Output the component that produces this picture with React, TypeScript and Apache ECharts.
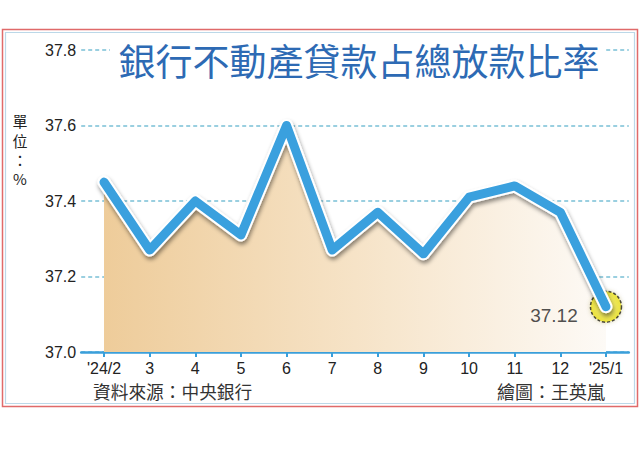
import React, { useEffect, useRef } from "react";
import * as echarts from "echarts";

const categories = ["'24/2", "3", "4", "5", "6", "7", "8", "9", "10", "11", "12", "'25/1"];
const values = [37.45, 37.27, 37.4, 37.31, 37.6, 37.27, 37.37, 37.26, 37.41, 37.44, 37.37, 37.12];
const yMin = 37.0;
const yMax = 37.8;
const yStep = 0.2;
const titleText = "銀行不動產貸款占總放款比率";
const unitChars = ["單", "位", "：", "%"];
const sourceText = "資料來源：中央銀行";
const creditText = "繪圖：王英嵐";
const highlightIndex = values.length - 1;

const NUM_FONT = "'Liberation Sans', Arial, sans-serif";
const CJK_FONT = "'Noto Sans CJK TC', 'Noto Sans CJK SC', sans-serif";

export default function App() {
  const ref = useRef<HTMLDivElement>(null);
  useEffect(() => {
    document.body.style.margin = "0";
    if (!ref.current) return;
    const chart = echarts.init(ref.current, undefined, { renderer: "svg" });
    const highlightData = values.map((v, i) => (i === highlightIndex ? v : "-"));
    const unitY = [120, 140, 159, 178];
    chart.setOption({
      animation: false,
      backgroundColor: "#ffffff",
      grid: { left: 81.2, right: 11.2, top: 50, bottom: 108, containLabel: false },
      xAxis: {
        type: "category",
        data: categories,
        boundaryGap: true,
        axisLine: { show: true, lineStyle: { color: "#3a9fda", width: 2.5 } },
        axisTick: { show: true, alignWithLabel: true, length: 5, lineStyle: { color: "#3a9fda", width: 2 } },
        axisLabel: { color: "#222", fontSize: 16, fontFamily: NUM_FONT, margin: 8 },
        splitLine: { show: false },
      },
      yAxis: {
        type: "value",
        min: yMin,
        max: yMax,
        interval: yStep,
        axisLine: { show: false },
        axisTick: { show: false },
        axisLabel: {
          color: "#222",
          fontSize: 16,
          fontFamily: NUM_FONT,
          margin: 5,
          formatter: (v: number) => v.toFixed(1),
        },
        splitLine: { show: true, lineStyle: { color: "#79c0d6", width: 1.5, type: [4, 3] } },
      },
      series: [
        {
          type: "line",
          data: values,
          z: 1,
          symbol: "none",
          lineStyle: { width: 0, opacity: 0 },
          areaStyle: {
            opacity: 1,
            color: new echarts.graphic.LinearGradient(0, 0, 1, 0, [
              { offset: 0, color: "#eecc9a" },
              { offset: 0.5, color: "#f6e3c7" },
              { offset: 1, color: "#fdfaf6" },
            ]),
          },
          silent: true,
        },
        {
          type: "scatter",
          data: highlightData,
          z: 2,
          symbol: "circle",
          symbolSize: 31,
          itemStyle: {
            color: new echarts.graphic.RadialGradient(0.5, 0.5, 0.5, [
              { offset: 0, color: "#f8f27a" },
              { offset: 1, color: "#ece21a" },
            ]),
            borderColor: "#222",
            borderWidth: 1.5,
            borderType: [3, 2],
            shadowColor: "rgba(120,110,0,0.35)",
            shadowBlur: 4,
          },
          label: {
            show: true,
            position: "left",
            distance: 12,
            offset: [0, 9],
            color: "#222",
            fontSize: 19,
            fontFamily: NUM_FONT,
            formatter: (p: any) => (typeof p.value === "number" ? p.value.toFixed(2) : String(p.value)),
          },
          silent: true,
        },
        {
          type: "line",
          data: values,
          z: 3,
          symbol: "none",
          lineStyle: {
            color: "#ffffff",
            width: 13,
            join: "round",
            cap: "round",
            shadowColor: "rgba(0,0,0,0.45)",
            shadowBlur: 4,
            shadowOffsetX: 1,
            shadowOffsetY: 3,
          },
          silent: true,
        },
        {
          type: "line",
          data: values,
          z: 4,
          symbol: "none",
          lineStyle: { color: "#3aa0de", width: 9, join: "round", cap: "round" },
          silent: true,
        },
      ],
      graphic: [
        {
          type: "rect",
          shape: { x: 2.5, y: 29.5, width: 635, height: 377 },
          style: { fill: "none", stroke: "#e06a6a", lineWidth: 1.5 },
          z: 100,
          silent: true,
        },
        {
          type: "rect",
          shape: { x: 5.5, y: 32.5, width: 629, height: 371 },
          style: { fill: "none", stroke: "#bcd8e8", lineWidth: 1.2 },
          z: 100,
          silent: true,
        },
        {
          type: "rect",
          shape: { x: 110, y: 40, width: 494, height: 40 },
          style: { fill: "#ffffff" },
          z: 100,
          silent: true,
        },
        {
          type: "text",
          x: 359,
          y: 60,
          z: 101,
          style: {
            text: titleText,
            fill: "#2d6ab4",
            font: `37px ${CJK_FONT}`,
            textAlign: "center",
            textVerticalAlign: "middle",
          },
          silent: true,
        },
        ...unitChars.map((c, i) => ({
          type: "text",
          x: 20,
          y: unitY[i],
          z: 101,
          style: {
            text: c,
            fill: "#222",
            font: `15px ${CJK_FONT}`,
            lineHeight: 15,
            textAlign: "center",
            textVerticalAlign: "middle",
          },
          silent: true,
        })),
        {
          type: "text",
          x: 93,
          y: 391,
          z: 101,
          style: {
            text: sourceText,
            fill: "#333",
            font: `17.7px ${CJK_FONT}`,
            textAlign: "left",
            textVerticalAlign: "middle",
          },
          silent: true,
        },
        {
          type: "text",
          x: 605,
          y: 391,
          z: 101,
          style: {
            text: creditText,
            fill: "#333",
            font: `18px ${CJK_FONT}`,
            textAlign: "right",
            textVerticalAlign: "middle",
          },
          silent: true,
        },
      ],
    });
    return () => chart.dispose();
  }, []);
  return <div ref={ref} style={{ width: 640, height: 460 }} />;
}
